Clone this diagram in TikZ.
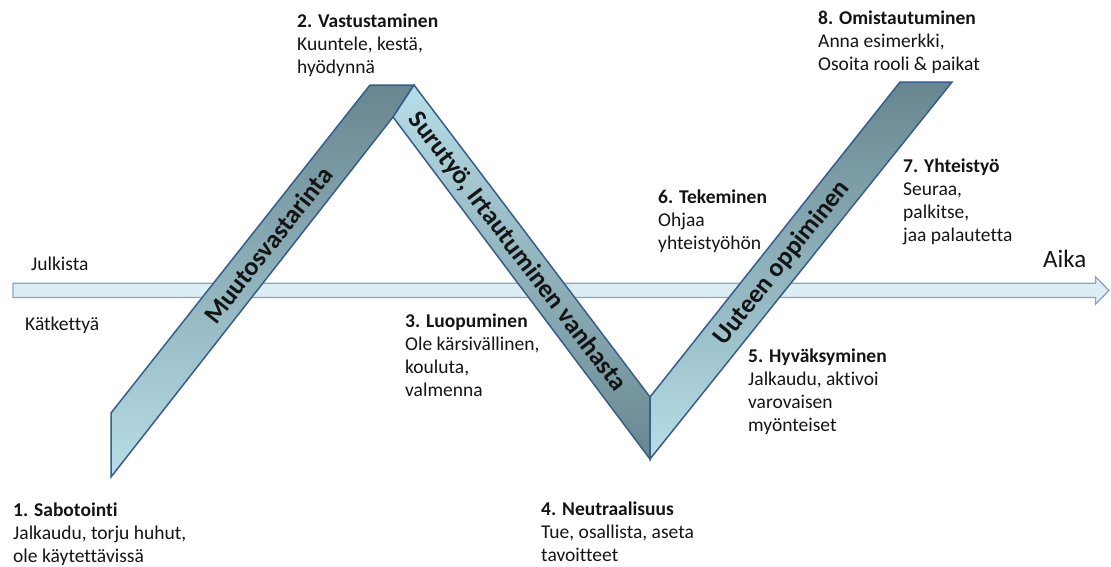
\documentclass[tikz,border=0pt]{standalone}
\usepackage{fontspec}
\setmainfont{Carlito}[Ligatures=NoCommon]
\definecolor{bandlight}{RGB}{183,222,232}
\definecolor{banddark}{RGB}{104,134,143}
\definecolor{bandline}{RGB}{56,93,138}
\definecolor{arrowfill}{RGB}{219,238,244}
\definecolor{arrowline}{RGB}{140,163,196}
\definecolor{txt}{RGB}{20,20,20}
\tikzset{
  lbl/.style={anchor=base west, align=left, inner sep=0pt, text=txt,
    font=\fontsize{19.5}{23}\selectfont},
  bandlbl/.style={inner sep=0pt, text=txt, font=\fontsize{26}{30}\selectfont\bfseries},
  bandface/.style={draw=bandline, line width=1.5pt},
}
\begin{document}
\begin{tikzpicture}[x=1pt,y=-1pt]
\useasboundingbox (0,0) rectangle (1111,566);
% time arrow
\draw[fill=arrowfill, draw=arrowline, line width=1.3pt]
  (13,283.3) -- (1095.5,283.3) -- (1095.5,276.7) -- (1109,290.5) -- (1095.5,304.3)
  -- (1095.5,297.5) -- (13,297.5) -- cycle;
% band faces
\shadedraw[bandface, top color=banddark, bottom color=bandlight]
  (111,413) -- (370,85) -- (414,85) -- (393,117) -- (111,477) -- cycle;
\shadedraw[bandface, top color=bandlight, bottom color=banddark]
  (414,85) -- (650,397) -- (650,459) -- (393,117) -- cycle;
\shadedraw[bandface, top color=banddark, bottom color=bandlight]
  (650,397) -- (900,82) -- (952,82) -- (650,459) -- cycle;
% band labels
\node[bandlbl, rotate=51.8] (m1) at (268,245) {Muutosvastarinta};
\node[bandlbl, rotate=-52.8] (m2) at (517,252) {Surutyö, Irtautuminen vanhasta};
\node[bandlbl, rotate=51.5] (m3) at (782,263) {Uuteen oppiminen};
% axis labels
\node[lbl] (julk) at (31,270) {Julkista};
\node[lbl] (katk) at (25,330) {Kätkettyä};
\node[lbl, font=\fontsize{25}{30}\selectfont] (aika) at (1043,267) {Aika};
% stage texts (anchored at the baseline of their last line)
\node[lbl] (s1) at (13,562) {\textbf{1. Sabotointi}\\Jalkaudu, torju huhut,\\ole käytettävissä};
\node[lbl] (s2) at (297,73) {\textbf{2. Vastustaminen}\\Kuuntele, kestä,\\hyödynnä};
\node[lbl] (s3) at (405,396) {\textbf{3. Luopuminen}\\Ole kärsivällinen,\\kouluta,\\valmenna};
\node[lbl] (s4) at (541,561) {\textbf{4. Neutraalisuus}\\Tue, osallista, aseta\\tavoitteet};
\node[lbl] (s5) at (748,431) {\textbf{5. Hyväksyminen}\\Jalkaudu, aktivoi\\varovaisen\\myönteiset};
\node[lbl] (s6) at (658,249) {\textbf{6. Tekeminen}\\Ohjaa\\yhteistyöhön};
\node[lbl] (s7) at (903,241) {\textbf{7. Yhteistyö}\\Seuraa,\\palkitse,\\jaa palautetta};
\node[lbl] (s8) at (818,70) {\textbf{8. Omistautuminen}\\Anna esimerkki,\\Osoita rooli \& paikat};
\end{tikzpicture}
\end{document}
